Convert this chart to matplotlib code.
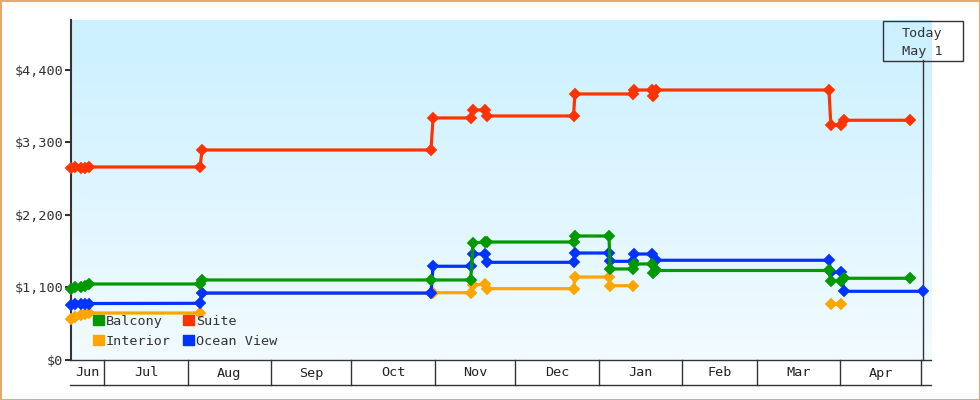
import numpy as np
import matplotlib
matplotlib.use("Agg")
import matplotlib.pyplot as plt
from matplotlib.patches import Patch, Rectangle

# days counted from 18 June
balcony_days = [0.6, 2.1, 4.3, 5.8, 7.3, 48.6, 49.4, 134.6, 149.4, 150.3, 154.7, 155.5, 187.7, 188.2, 200.9, 201.3, 209.7, 210.2, 216.9, 217.3, 218.4, 282.8, 283.5, 287.3, 288.4, 313]
balcony_vals = [1077, 1100, 1108, 1123, 1153, 1153, 1214, 1214, 1214, 1775, 1790, 1790, 1790, 1881, 1881, 1381, 1381, 1457, 1457, 1320, 1358, 1358, 1203, 1203, 1240, 1240]

suite_days = [0.6, 2.1, 4.3, 5.8, 7.3, 48.6, 49.4, 134.6, 135.4, 149.4, 150.3, 154.7, 155.5, 187.7, 188.2, 209.7, 210.2, 216.9, 217.3, 218.4, 282.8, 283.5, 287.3, 288.4, 313]
suite_vals = [2913, 2921, 2913, 2913, 2928, 2928, 3186, 3186, 3672, 3672, 3793, 3793, 3702, 3702, 4036, 4036, 4096, 4096, 4005, 4096, 4096, 3566, 3566, 3637, 3637]

interior_days = [0.6, 2.1, 4.3, 5.8, 7.3, 48.6, 49.4, 134.6, 135.4, 149.4, 150.3, 154.7, 155.5, 187.7, 188.2, 200.9, 201.3, 209.7, 250, 283.5, 287.3]
interior_vals = [622, 652, 683, 698, 713, 713, 1017, 1017, 1021, 1021, 1138, 1153, 1082, 1082, 1259, 1259, 1127, 1127, np.nan, 845, 845]

ocean_days = [0.6, 2.1, 4.3, 5.8, 7.3, 48.6, 49.4, 134.6, 135.4, 149.4, 150.3, 154.7, 155.5, 187.7, 188.2, 200.9, 201.3, 209.7, 210.2, 216.9, 218.4, 282.8, 283.5, 287.3, 288.4, 317.7]
ocean_vals = [834, 857, 850, 850, 857, 860, 1015, 1015, 1422, 1422, 1608, 1608, 1482, 1482, 1623, 1623, 1497, 1497, 1608, 1608, 1513, 1513, 1331, 1331, 1042, 1042]

yticks = [0, 1100, 2200, 3300, 4400]
ylabels = ["$0", "$1,100", "$2,200", "$3,300", "$4,400"]
month_names = ["Jun", "Jul", "Aug", "Sep", "Oct", "Nov", "Dec", "Jan", "Feb", "Mar", "Apr"]
month_edges = [0.2, 13, 44, 75, 105, 136, 166, 197, 228, 256, 287, 317]
today_day = 317.7

GREEN, RED, ORANGE, BLUE = "#009900", "#FF3300", "#FFA500", "#0033FF"
DARK = "#333333"
FS = 9.7

plt.rcParams["font.family"] = ["DejaVu Sans Mono"]
fig = plt.figure(figsize=(9.8, 4.0), dpi=100, facecolor="white")
ax = fig.add_axes([70 / 980, 40 / 400, 861 / 980, 340 / 400])
ax.set_xlim(0.2, 320.8)
ax.set_ylim(0, 5158)

# vertical gradient background
top = np.array([0xCB, 0xF0, 0xFF]) / 255
bot = np.array([0xF2, 0xFB, 0xFF]) / 255
t = np.linspace(0, 1, 256)[:, None, None]
grad = top * (1 - t) + bot * t
ax.imshow(grad, extent=[0.2, 320.8, 0, 5158], aspect="auto", origin="upper", zorder=0)

series = [
    (interior_days, interior_vals, ORANGE),
    (ocean_days, ocean_vals, BLUE),
    (balcony_days, balcony_vals, GREEN),
    (suite_days, suite_vals, RED),
]
for i, (d, v, c) in enumerate(series):
    ax.plot(d, v, color=c, lw=2.3, marker="D", ms=4.8, mew=1.3, mec=c, clip_on=False,
            zorder=3 + i, solid_joinstyle="round")

for s in ["top", "right"]:
    ax.spines[s].set_visible(False)
ax.spines["left"].set_linewidth(1.5)
ax.spines["left"].set_color(DARK)
ax.spines["left"].set_position(("outward", -0.7))
ax.spines["bottom"].set_linewidth(1.0)
ax.spines["bottom"].set_color(DARK)
ax.set_yticks(yticks, ylabels)
ax.tick_params(axis="y", length=4, width=1.5, color=DARK, labelcolor=DARK, labelsize=FS, pad=1.5)
ax.set_xticks([])

# month strip beneath the axis
strip = ax.get_xaxis_transform()
ax.plot([0, 1], [-25 / 340, -25 / 340], transform=ax.transAxes, color=DARK, lw=1.0, clip_on=False)
for e in month_edges[1:]:
    ax.plot([e, e], [0, -25 / 340], transform=strip, color=DARK, lw=1.0, clip_on=False)
for a, b, name in zip(month_edges[:-1], month_edges[1:], month_names):
    ax.text((a + b) / 2, -13 / 340, name, transform=strip, ha="center", va="center",
            fontsize=FS, color="#222222")

# today marker
ax.plot([today_day, today_day], [0, 300 / 340], transform=strip, color=DARK, lw=1.0,
        clip_on=False, zorder=2)
fig.add_artist(Rectangle((882.5 / 980, 1 - 60.5 / 400), 80 / 980, 40 / 400, fill=False,
                         edgecolor=DARK, lw=1.0, transform=fig.transFigure))
fig.text(922 / 980, 1 - 33 / 400, "Today", ha="center", va="center", fontsize=FS, color=DARK)
fig.text(922 / 980, 1 - 51 / 400, "May 1", ha="center", va="center", fontsize=FS, color=DARK)

# legend
handles = [Patch(color=GREEN, label="Balcony"), Patch(color=ORANGE, label="Interior"),
           Patch(color=RED, label="Suite"), Patch(color=BLUE, label="Ocean View")]
leg = ax.legend(handles=handles, ncols=2, frameon=False, loc="lower left",
                bbox_to_anchor=(23 / 861, 12 / 340), borderaxespad=0, borderpad=0,
                handlelength=0.82, handleheight=0.8, handletextpad=0.14,
                columnspacing=0.92, labelspacing=0.55, fontsize=FS, labelcolor=DARK)
leg.set_zorder(10)

# outer border
fig.add_artist(Rectangle((0.5 / 980, 0.5 / 400), 979 / 980, 399 / 400, fill=False,
                         edgecolor="#E5A96B", lw=1.5, transform=fig.transFigure))

fig.savefig("out.png", dpi=100, facecolor="white")
